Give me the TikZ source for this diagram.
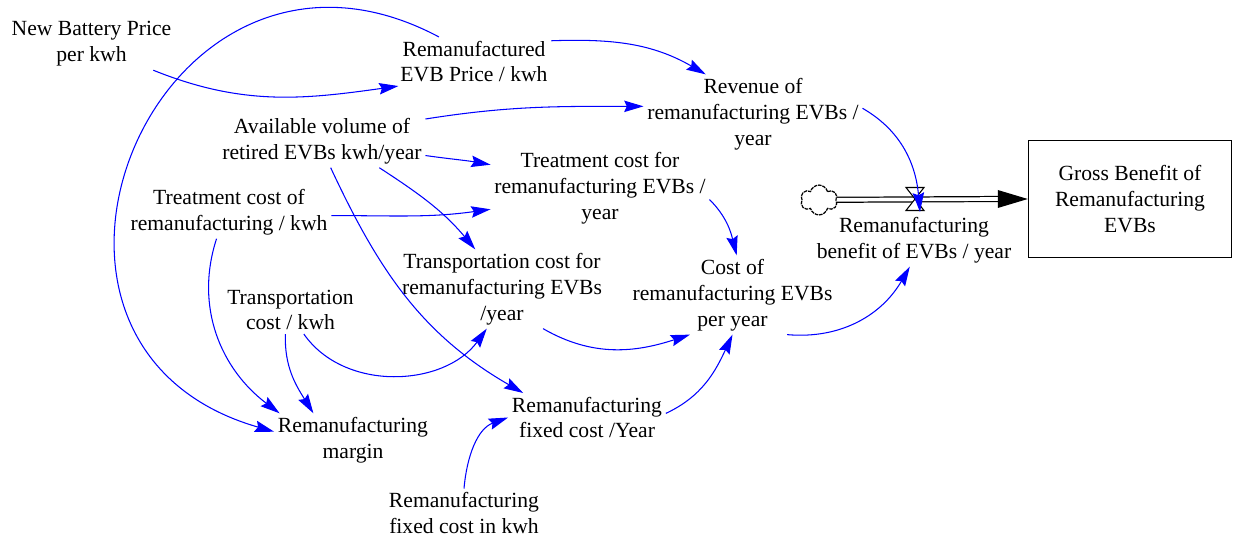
\documentclass[tikz,border=0pt]{standalone}
\usepackage{fontspec}
\setmainfont{Liberation Serif}
\usetikzlibrary{arrows.meta,shapes.symbols}

\begin{document}
\begin{tikzpicture}[x=0.02cm,y=-0.02cm]
\useasboundingbox (0,0) rectangle (1233,540);

\begin{scope}[every node/.style={align=center,inner sep=2pt,font=\fontsize{12.3}{14.7}\selectfont}]
    \node (nbp) at (91.5,44) {New Battery Price\\per kwh};
    \node (remp) at (474,61.5) {Remanufactured\\EVB Price / kwh};
    \node (rev) at (753,114) {Revenue of\\remanufacturing EVBs /\\year};
    \node (avail) at (322,141) {Available volume of\\retired EVBs kwh/year};
    \node (tcf) at (600,188) {Treatment cost for\\remanufacturing EVBs /\\year};
    \node (tcr) at (229,212) {Treatment cost of\\remanufacturing / kwh};
    \node (trc) at (502,289) {Transportation cost for\\remanufacturing EVBs\\/year};
    \node (cost) at (732.5,295) {Cost of\\remanufacturing EVBs\\per year};
    \node (tck) at (290.5,310) {Transportation\\cost / kwh};
    \node (margin) at (353,440) {Remanufacturing\\margin};
    \node (fcy) at (587,417.5) {Remanufacturing\\fixed cost /Year};
    \node (fck) at (464,513) {Remanufacturing\\fixed cost in kwh};
    \node (benefit) at (914,240) {Remanufacturing\\benefit of EVBs / year};
    \node[draw,line width=0.7pt,minimum width=115.7pt,minimum height=66.3pt] (gross) at (1130,199) {Gross Benefit of\\Remanufacturing\\EVBs};
\end{scope}

% flow into the stock
\node[cloud,draw,cloud puffs=6,cloud ignores aspect,minimum width=21pt,minimum height=17pt,inner sep=0pt,
      line width=0.7pt,dash pattern=on 2pt off 0.5pt] (src) at (819,200) {};
\coordinate (valve) at (915,199);
\coordinate (vtip) at (920,212);
\draw[line width=0.7pt,double=white,double distance=2.1pt] (src) -- ([xshift=-16pt]gross.west);
\fill ([shift={(-30,-9)}]gross.west) -- (gross.west) -- ([shift={(-30,9)}]gross.west) -- cycle;
\draw[fill=white,line width=0.6pt] ([shift={(-9,-11.5)}]valve) -- ([shift={(9,-11.5)}]valve)
    -- ([shift={(-9,11.5)}]valve) -- ([shift={(9,11.5)}]valve) -- cycle;

\begin{scope}[>={Stealth[length=11pt,width=6.5pt,inset=1.5pt]},
              every edge/.style={draw=blue,line width=0.6pt}]
    \path [->] (nbp.-23) edge[out=-22,in=188] (remp.198);
    \path [->] (remp.15) edge[out=2,in=150] (rev.140);
    \path [->] (remp.145) edge[out=152,in=164,looseness=1.9] (margin.174);
    \path [->] (avail.12) edge[out=9,in=180] (rev.176);
    \path [->] (avail.-8) edge[out=-8,in=170] (tcf.168);
    \path [->] (avail.-25) edge[out=-33,in=130] (trc.124);
    \path [->] (avail.-72) edge[out=-65,in=150] (fcy.159);
    \path [->] (tcr.-2) edge[out=0,in=188] (tcf.191);
    \path [->] (tcr.-115) edge[out=-108,in=143] (margin.160);
    \path [->] (tck.-102) edge[out=-92,in=122] (margin.146);
    \path [->] (tck.-61) edge[out=-55,in=-126] (trc.249);
    \path [->] (trc.-44) edge[out=-30,in=198] (cost.223);
    \path [->] (tcf.-6) edge[out=-45,in=104] (cost.84);
    \path [->] (fcy.3) edge[out=25,in=-115] (cost.-90);
    \path [->] (fck.90) edge[out=85,in=200] (fcy.180);
    \path [->] (cost.-36) edge[out=-5,in=-120] (benefit.-99);
    \path [->] (rev.3) edge[out=-30,in=95] (vtip);
\end{scope}
\end{tikzpicture}
\end{document}
